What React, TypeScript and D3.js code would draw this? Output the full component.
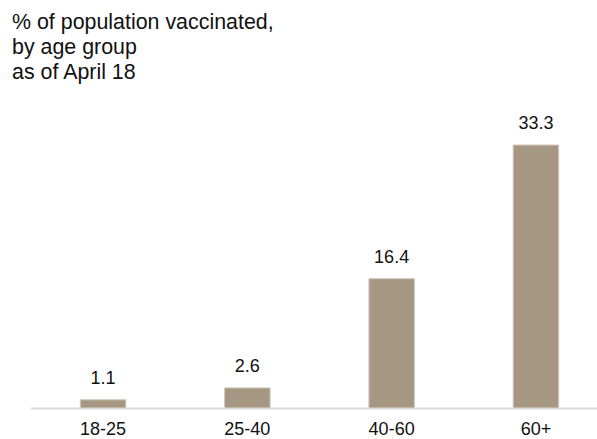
import React from "react";
import * as d3 from "d3";

const categories: string[] = ["18-25", "25-40", "40-60", "60+"];
const values: number[] = [1.1, 2.6, 16.4, 33.3];
const titleLines: string[] = ["% of population vaccinated,", "by age group", "as of April 18"];

const W = 597;
const H = 439;
const FONT = "'Liberation Sans', Arial, Helvetica, sans-serif";

export default function App() {
  const x = d3
    .scaleBand<string>()
    .domain(categories)
    .range([31, 608])
    .paddingInner(0.685)
    .paddingOuter(0.342);
  const baseline = 408.5;
  const y = d3.scaleLinear().domain([0, 33.3]).range([baseline, 145]);

  return (
    <svg
      width={W}
      height={H}
      style={{ position: "absolute", left: 0, top: 0, background: "#fff" }}
      fontFamily={FONT}
    >
      <g>
        {titleLines.map((t, i) => (
          <text key={i} x={12} y={29 + i * 25} fontSize={21.4} fill="#111">
            {t}
          </text>
        ))}
      </g>
      <g>
        {categories.map((c, i) => {
          const bx = x(c)!;
          const top = y(values[i]);
          return (
            <g key={c}>
              <rect
                x={bx}
                y={top}
                width={x.bandwidth()}
                height={baseline - top}
                fill="#a69783"
                stroke="#cfc6b8"
                strokeWidth={1}
              />
              <text
                x={bx + x.bandwidth() / 2}
                y={top - 16}
                textAnchor="middle"
                fontSize={18}
                fill="#111"
              >
                {d3.format(".1f")(values[i])}
              </text>
              <text
                x={bx + x.bandwidth() / 2}
                y={435}
                textAnchor="middle"
                fontSize={18}
                fill="#111"
              >
                {c}
              </text>
            </g>
          );
        })}
      </g>
      <line x1={31} x2={608} y1={baseline} y2={baseline} stroke="#d9d9d9" strokeWidth={2} />
    </svg>
  );
}
